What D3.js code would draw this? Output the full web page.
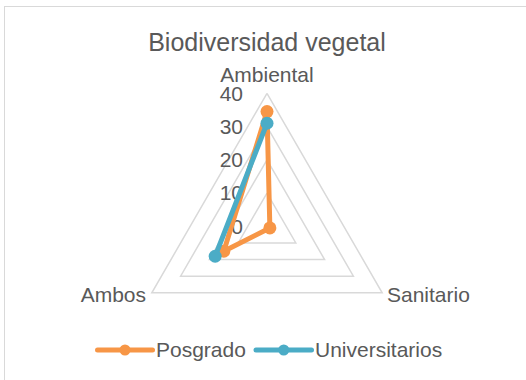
<!DOCTYPE html>
<html>
<head>
<meta charset="utf-8">
<script src="https://cdn.jsdelivr.net/npm/d3@7/dist/d3.min.js"></script>
<style>
  html, body { margin: 0; padding: 0; background: #fff; }
  svg { display: block; font-family: "Liberation Sans", Arial, sans-serif; }
</style>
</head>
<body>
<svg id="chart" width="526" height="380"></svg>
<script>
// Radar chart data
const categories = ["Ambiental", "Sanitario", "Ambos"];
const seriesNames = ["Posgrado", "Universitarios"];
const posgrado = [34.5, 1, 15];
const universitarios = [31, null, 18];
const tickValues = [0, 10, 20, 30, 40];
const seriesColors = ["#F79646", "#4BACC6"];

const W = 526, H = 380;
const cx = 267, cy = 226.3, R = 133;
const textColor = "#595959";
const gridColor = "#D9D9D9";

const svg = d3.select("#chart");

// chart area frame
svg.append("rect")
  .attr("x", 4.5).attr("y", 6.5)
  .attr("width", W + 10).attr("height", H + 10)
  .attr("fill", "#fff").attr("stroke", gridColor).attr("stroke-width", 1);

// title
svg.append("text")
  .attr("x", cx).attr("y", 51)
  .attr("text-anchor", "middle")
  .attr("font-size", 25)
  .attr("fill", textColor)
  .text("Biodiversidad vegetal");

const r = d3.scaleLinear().domain([0, 40]).range([0, R]);
const angle = d3.scalePoint().domain(categories).range([0, 360]).padding(0);
// spoke angles: first category straight up, then clockwise
const angleOf = i => (-90 + i * 360 / categories.length) * Math.PI / 180;
const pt = (i, v) => [cx + r(v) * Math.cos(angleOf(i)), cy + r(v) * Math.sin(angleOf(i))];

// grid polygons
const gridLine = d3.line();
tickValues.filter(t => t > 0).forEach(t => {
  const pts = categories.map((c, i) => pt(i, t));
  pts.push(pts[0]);
  svg.append("path")
    .attr("d", gridLine(pts))
    .attr("fill", "none")
    .attr("stroke", gridColor)
    .attr("stroke-width", 1.5);
});

// value axis labels along the first spoke
svg.append("g").selectAll("text")
  .data(tickValues)
  .join("text")
  .attr("x", 243)
  .attr("y", d => cy - r(d))
  .attr("dy", "0.35em")
  .attr("text-anchor", "end")
  .attr("font-size", 21)
  .attr("fill", textColor)
  .text(d => d);

// category labels
const catPos = [
  { x: cx, y: 82, anchor: "middle" },
  { x: 387, y: 301.5, anchor: "start" },
  { x: 146, y: 301.5, anchor: "end" }
];
svg.append("g").selectAll("text")
  .data(categories)
  .join("text")
  .attr("x", (d, i) => catPos[i].x)
  .attr("y", (d, i) => catPos[i].y)
  .attr("text-anchor", (d, i) => catPos[i].anchor)
  .attr("font-size", 21)
  .attr("fill", textColor)
  .text(d => d);

// series lines and markers
const seriesData = [posgrado, universitarios];
const radarLine = d3.line()
  .defined(d => d.v !== null)
  .x(d => pt(d.i, d.v)[0])
  .y(d => pt(d.i, d.v)[1]);

seriesData.forEach((vals, s) => {
  const g = svg.append("g");
  const ring = vals.map((v, i) => ({ i, v }));
  ring.push(ring[0]);
  g.append("path")
    .attr("d", radarLine(ring))
    .attr("fill", "none")
    .attr("stroke", seriesColors[s])
    .attr("stroke-width", 5)
    .attr("stroke-linejoin", "round")
    .attr("stroke-linecap", "round");
  g.selectAll("circle")
    .data(vals.map((v, i) => ({ i, v })).filter(d => d.v !== null))
    .join("circle")
    .attr("cx", d => pt(d.i, d.v)[0])
    .attr("cy", d => pt(d.i, d.v)[1])
    .attr("r", 6.5)
    .attr("fill", seriesColors[s]);
});

// legend
const legendItems = [
  { name: seriesNames[0], x1: 97.5, x2: 152.5, tx: 156 },
  { name: seriesNames[1], x1: 256, x2: 311.5, tx: 315 }
];
const ly = 350;
legendItems.forEach((d, s) => {
  const g = svg.append("g");
  g.append("line")
    .attr("x1", d.x1).attr("x2", d.x2)
    .attr("y1", ly).attr("y2", ly)
    .attr("stroke", seriesColors[s])
    .attr("stroke-width", 5)
    .attr("stroke-linecap", "round");
  g.append("circle")
    .attr("cx", (d.x1 + d.x2) / 2).attr("cy", ly)
    .attr("r", 5.5)
    .attr("fill", seriesColors[s]);
  g.append("text")
    .attr("x", d.tx).attr("y", ly)
    .attr("dy", "0.35em")
    .attr("font-size", 21)
    .attr("fill", textColor)
    .text(d.name);
});
</script>
</body>
</html>
